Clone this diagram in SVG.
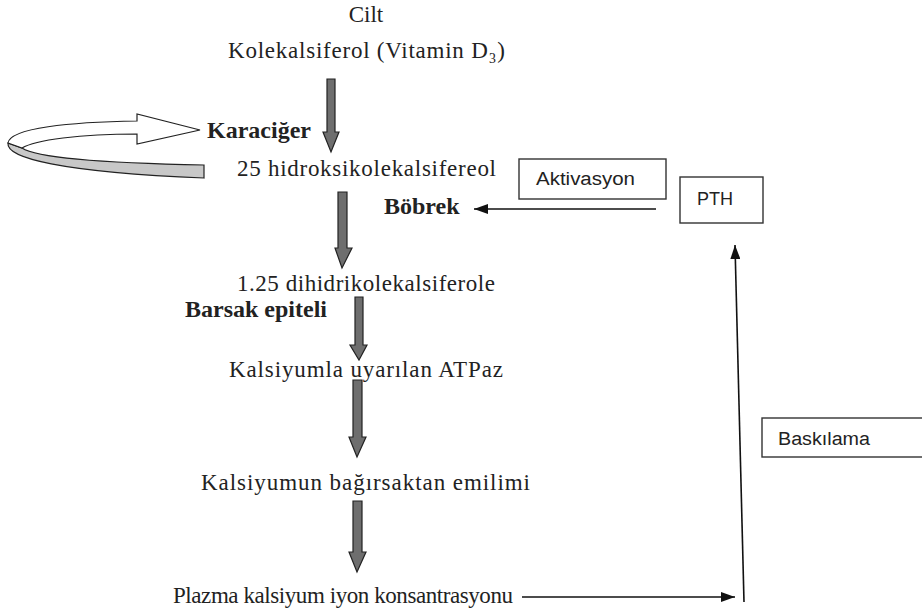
<svg xmlns="http://www.w3.org/2000/svg" width="922" height="609" viewBox="0 0 922 609">
<defs>
<style>
.t{font-family:"Liberation Serif","Times New Roman",serif;font-size:23px;fill:#222}
.b{font-family:"Liberation Serif","Times New Roman",serif;font-size:24px;font-weight:bold;fill:#222}
.s{font-family:"Liberation Sans",Arial,sans-serif;font-size:18px;fill:#222}
.box{fill:#fff;stroke:#333;stroke-width:1.4}
.dn{fill:#6e6e6e;stroke:#222;stroke-width:1.2;stroke-linejoin:miter}
.ln{fill:none;stroke:#111;stroke-width:1.6}
</style>
<marker id="ah2" viewBox="0 0 10 10" refX="10" refY="5" markerWidth="14" markerHeight="10" markerUnits="userSpaceOnUse" orient="auto" preserveAspectRatio="none">
<path d="M0,0 L10,5 L0,10 Z" fill="#111"/>
</marker>
</defs>
<rect width="922" height="609" fill="#fff"/>

<g id="connectors">
<path class="dn" d="M327,79 H335 V132 H339 L331,152 L323,132 H327 Z"/>
<path class="dn" d="M338,192 H347 V248 H352 L342,268 L335,248 H338 Z"/>
<path class="dn" d="M355,297 H363 V345 H367 L359,360 L350,345 H355 Z"/>
<path class="dn" d="M353,380 H362 V437 H366 L357,457 L349,437 H353 Z"/>
<path class="dn" d="M353,501 H362 V552 H366 L357,572 L349,552 H353 Z"/>
<line class="ln" x1="656" y1="209" x2="474" y2="209" marker-end="url(#ah2)"/>
<line class="ln" x1="522" y1="597" x2="735" y2="597" marker-end="url(#ah2)"/>
<line class="ln" x1="744" y1="602" x2="735" y2="245" marker-end="url(#ah2)"/>
<g id="loop">
<path d="M8,143 C6,158 60,172 204,178 L204,165 C100,163 35,157 22,148 Z" fill="#c8c8c8" stroke="#222" stroke-width="1.2"/>
<path d="M8,143 C10,128 70,122 137,121 L137,114 L200,130 L137,144 L137,134 C80,134 35,140 22,148 Z" fill="#fff" stroke="#222" stroke-width="1.2"/>
</g>
</g>

<g id="cilt"><text class="t" x="366" y="22" text-anchor="middle">Cilt</text></g>
<g id="kolekalsiferol"><text class="t" x="228" y="58" textLength="277" lengthAdjust="spacing">Kolekalsiferol (Vitamin D₃)</text></g>
<g id="karaciger"><text class="b" x="207" y="138">Karaciğer</text></g>
<g id="hidroksi"><text class="t" x="237" y="176" textLength="259" lengthAdjust="spacing">25 hidroksikolekalsifereol</text></g>
<g id="bobrek"><text class="b" x="384" y="214">Böbrek</text></g>
<g id="dihidri"><text class="t" x="237" y="291" textLength="258" lengthAdjust="spacing">1.25 dihidrikolekalsiferole</text></g>
<g id="barsak"><text class="b" x="185" y="317">Barsak epiteli</text></g>
<g id="atpaz"><text class="t" x="229" y="377" textLength="274" lengthAdjust="spacing">Kalsiyumla uyarılan ATPaz</text></g>
<g id="emilim"><text class="t" x="201" y="490" textLength="329" lengthAdjust="spacing">Kalsiyumun bağırsaktan emilimi</text></g>
<g id="plazma"><text class="t" x="173" y="603" textLength="340" lengthAdjust="spacing">Plazma kalsiyum iyon konsantrasyonu</text></g>

<g id="aktivasyon"><rect class="box" x="519" y="159" width="147" height="40"/><text class="s" x="536" y="185" textLength="99" lengthAdjust="spacingAndGlyphs">Aktivasyon</text></g>
<g id="pth"><rect class="box" x="680" y="177" width="83" height="46"/><text class="s" x="697" y="205">PTH</text></g>
<g id="baskilama"><rect class="box" x="762" y="418" width="170" height="39"/><text class="s" x="778" y="445" textLength="92" lengthAdjust="spacingAndGlyphs">Baskılama</text></g>
</svg>
